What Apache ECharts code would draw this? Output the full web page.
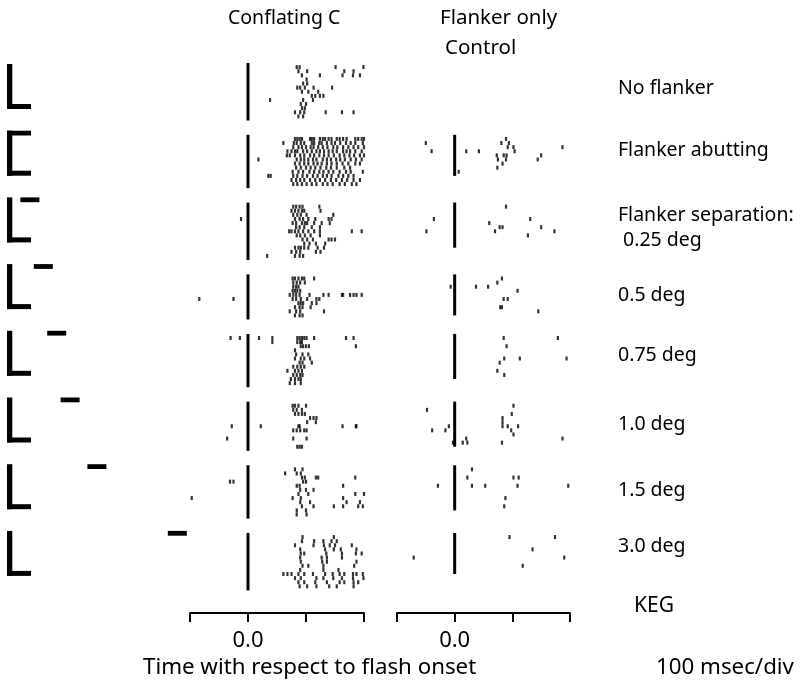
<!DOCTYPE html>
<html><head><meta charset="utf-8">
<script src="https://cdn.jsdelivr.net/npm/echarts@6/dist/echarts.min.js"></script>
<style>html,body{margin:0;padding:0;background:#fff}#c{width:804px;height:685px}</style>
</head><body><div id="c"></div>
<script>
// ---------- DATA ----------
const conditionLabels = ['No flanker', 'Flanker abutting', 'Flanker separation:', ' 0.25 deg', '0.5 deg', '0.75 deg', '1.0 deg', '1.5 deg', '3.0 deg'];
const flankerSepDeg = [null, 0, 0.25, 0.5, 0.75, 1.0, 1.5, 3.0];
const trialsConflating = [14, 13, 14, 11, 13, 12, 13, 14];
const trialsControl = [0, 10, 11, 10, 11, 11, 11, 10];
const timeTicks = [-100, 0, 100, 200];          // ms, 100 ms/div
const panelTitles = ['Conflating C', 'Flanker only', 'Control'];

// spikes: [time ms, trial]
const conf0 = [[84,1],[89,1],[151,1],[199,1],[87,2],[102,2],[166,2],[182,2],[93,3],[124,3],[163,3],[181,3],[193,3],[101,4],[95,5],[102,5],[85,6],[90,6],[98,6],[113,6],[145,6],[93,7],[104,7],[121,7],[110,8],[116,8],[124,8],[130,8],[38,9],[95,9],[112,9],[91,10],[100,10],[93,11],[98,11],[81,12],[90,12],[97,12],[134,12],[162,12],[182,12],[87,13],[95,13]];
const conf1 = [
 [81,1],[85,1],[89,1],[93,1],[107,1],[110,1],[114,1],[124,1],[129,1],[133,1],[139,1],[144,1],[153,1],[158,1],[164,1],[170,1],[185,1],[190,1],[196,1],[200,1],
 [61,2],[79,2],[84,2],[91,2],[97,2],[110,2],[114,2],[123,2],[127,2],[136,2],[144,2],[150,2],[159,2],[169,2],[177,2],[185,2],[198,2],
 [78,3],[87,3],[93,3],[100,3],[108,3],[113,3],[121,3],[129,3],[137,3],[147,3],[154,3],[164,3],[173,3],[182,3],[190,3],[200,3],
 [68,4],[75,4],[81,4],[85,4],[95,4],[102,4],[110,4],[118,4],[124,4],[131,4],[139,4],[146,4],[153,4],[164,4],[170,4],[176,4],[185,4],[196,4],
 [67,5],[72,5],[81,5],[90,5],[97,5],[107,5],[114,5],[123,5],[131,5],[139,5],[148,5],[158,5],[166,5],[175,5],[183,5],[193,5],[200,5],
 [18,6],[84,6],[91,6],[97,6],[104,6],[112,6],[118,6],[129,6],[136,6],[143,6],[152,6],[159,6],[167,6],[177,6],[186,6],[196,6],
 [81,7],[89,7],[97,7],[104,7],[113,7],[120,7],[127,7],[136,7],[144,7],[153,7],[163,7],[173,7],[185,7],[193,7],
 [83,8],[91,8],[100,8],[108,8],[116,8],[125,8],[135,8],[143,8],[153,8],[166,8],[176,8],
 [77,9],[87,9],[95,9],[106,9],[114,9],[123,9],[130,9],[139,9],[147,9],[158,9],[169,9],[177,9],[198,9],
 [35,10],[39,10],[78,10],[85,10],[94,10],[102,10],[112,10],[120,10],[129,10],[136,10],[144,10],[156,10],[164,10],[173,10],[182,10],
 [75,11],[83,11],[90,11],[97,11],[107,11],[116,11],[124,11],[133,11],[143,11],[152,11],[162,11],[171,11],[182,11],[193,11],
 [78,12],[85,12],[93,12],[101,12],[110,12],[118,12],[129,12],[137,12],[146,12],[158,12],[167,12],[179,12],[187,12]];
const conf2 = [[78,1],[83,1],[89,1],[94,1],[123,1],[75,2],[81,2],[87,2],[93,2],[97,2],[125,2],[78,3],[85,3],[91,3],[101,3],[147,3],[-12,4],[81,4],[89,4],[95,4],[104,4],[116,4],[139,4],[144,4],[77,5],[83,5],[93,5],[98,5],[102,5],[114,5],[127,5],[141,5],[83,6],[89,6],[97,6],[110,6],[124,6],[71,7],[75,7],[81,7],[87,7],[95,7],[104,7],[114,7],[124,7],[179,7],[196,7],[84,8],[90,8],[98,8],[108,8],[124,8],[94,9],[102,9],[112,9],[139,9],[144,9],[150,9],[97,10],[106,10],[117,10],[133,10],[81,11],[87,11],[91,11],[97,11],[104,11],[120,11],[131,11],[75,12],[83,12],[90,12],[117,12],[125,12],[33,13],[81,13],[89,13],[95,13]];
const conf3 = [[77,1],[81,1],[87,1],[93,1],[97,1],[114,1],[78,2],[84,2],[90,2],[98,2],[78,3],[83,3],[87,3],[77,4],[81,4],[85,4],[90,4],[72,5],[78,5],[83,5],[89,5],[106,5],[130,5],[139,5],[162,5],[164,5],[176,5],[182,5],[187,5],[196,5],[-84,6],[-25,6],[77,6],[83,6],[91,6],[102,6],[118,6],[123,6],[87,7],[91,7],[95,7],[110,7],[118,7],[81,8],[89,8],[94,8],[108,8],[72,9],[83,9],[90,9],[131,9],[81,10],[89,10],[94,10]];
const conf4 = [[-30,1],[-14,1],[19,1],[42,1],[85,1],[89,1],[93,1],[97,1],[101,1],[114,1],[169,1],[182,1],[42,2],[85,2],[90,2],[93,2],[91,3],[95,3],[100,3],[105,3],[186,3],[81,4],[83,5],[94,5],[104,5],[81,6],[91,6],[97,6],[107,6],[89,7],[94,7],[110,7],[78,8],[85,8],[91,8],[97,8],[68,9],[81,9],[87,9],[93,9],[78,10],[84,10],[90,10],[94,10],[74,11],[81,11],[87,11],[91,11],[72,12],[81,12],[91,12]];
const conf5 = [[77,1],[81,1],[87,1],[100,1],[78,2],[84,2],[93,2],[81,3],[87,3],[93,3],[98,3],[107,4],[113,4],[118,4],[102,5],[117,5],[-28,6],[22,6],[87,6],[89,6],[163,6],[186,6],[187,6],[78,7],[84,7],[90,7],[97,7],[101,7],[-36,9],[78,9],[101,9],[85,11],[89,11],[93,11]];
const conf6 = [[81,1],[94,1],[64,2],[84,2],[91,2],[93,3],[98,3],[117,3],[121,3],[185,3],[-31,4],[-25,4],[95,4],[100,4],[84,5],[89,5],[164,5],[90,6],[100,6],[113,6],[87,7],[104,7],[185,7],[200,7],[-97,8],[77,8],[91,8],[164,8],[90,9],[107,9],[170,9],[193,9],[93,10],[113,10],[148,10],[164,10],[190,10],[198,10],[84,11],[100,11],[84,12],[101,12]];
const conf7 = [[94,1],[148,1],[93,2],[114,2],[130,2],[144,2],[153,2],[81,3],[113,3],[131,3],[141,3],[150,3],[179,3],[90,4],[133,4],[148,4],[160,4],[187,4],[91,5],[97,5],[135,5],[162,5],[186,5],[196,5],[90,6],[127,6],[136,6],[162,6],[91,7],[128,7],[136,7],[187,7],[94,8],[104,8],[130,8],[183,8],[90,9],[130,9],[156,9],[61,10],[68,10],[75,10],[87,10],[97,10],[112,10],[133,10],[146,10],[158,10],[166,10],[181,10],[187,10],[198,10],[81,11],[91,11],[118,11],[130,11],[147,11],[162,11],[181,11],[199,11],[87,12],[97,12],[116,12],[136,12],[158,12],[166,12],[182,12],[190,12],[89,13],[102,13],[118,13],[140,13],[153,13],[182,13]];

const ctrl1 = [[89,1],[-50,2],[81,2],[94,2],[92,3],[102,3],[187,3],[-40,4],[20,4],[42,4],[104,4],[73,5],[85,5],[90,5],[150,5],[75,6],[89,6],[144,6],[83,7],[74,8],[7,9]];
const ctrl2 = [[89,1],[-36,4],[131,4],[60,5],[78,6],[83,6],[150,6],[-49,7],[70,7],[173,7],[127,8]];
const ctrl3 = [[82,1],[74,2],[-7,3],[37,3],[58,3],[109,4],[85,6],[92,6],[79,8],[82,8],[145,9]];
const ctrl4 = [[85,1],[179,1],[90,3],[86,6],[113,6],[194,6],[78,7],[74,9],[86,10]];
const ctrl5 = [[102,1],[-48,2],[99,3],[83,4],[83,5],[-10,6],[83,6],[92,6],[110,6],[-39,7],[-16,7],[98,7],[102,8],[20,9],[187,9],[-3,10],[14,10],[22,10],[82,10]];
const ctrl6 = [[30,1],[22,3],[102,3],[111,3],[-29,5],[30,5],[53,5],[109,5],[197,5],[88,8],[86,10]];
const ctrl7 = [[95,1],[174,1],[135,4],[-71,6],[190,6],[118,8]];

const conflatingSpikes = [conf0, conf1, conf2, conf3, conf4, conf5, conf6, conf7];
const controlSpikes = [[], ctrl1, ctrl2, ctrl3, ctrl4, ctrl5, ctrl6, ctrl7];

// ---------- LAYOUT ----------
const FONT = '"Noto Sans", sans-serif';
const blockGap = 3.5;
const blockStart = [];
(function () { let acc = 0; trialsConflating.forEach(n => { blockStart.push(acc); acc += n + blockGap; }); })();

function spikeData(lists) {
  const out = [];
  lists.forEach((l, k) => l.forEach(([t, j]) => out.push([t, blockStart[k] + j])));
  return out;
}
function onsetData(counts) {
  const out = [];
  counts.forEach((n, k) => { if (n > 0) out.push([0, blockStart[k], blockStart[k] + n]); });
  return out;
}
function onsetRender(params, api) {
  const a = api.coord([api.value(0), api.value(1)]);
  const b = api.coord([api.value(0), api.value(2)]);
  return { type: 'rect', shape: { x: a[0] - 1.5, y: a[1], width: 3, height: b[1] - a[1] }, style: { fill: '#000' } };
}
function iconRender(params, api) {
  const i = api.value(1);
  const o = api.coord([0, i]);
  const children = [
    { type: 'rect', shape: { x: o[0], y: o[1], width: 5.3, height: 45 }, style: { fill: '#000' } },
    { type: 'rect', shape: { x: o[0], y: o[1] + 40, width: 24, height: 5 }, style: { fill: '#000' } }
  ];
  const sep = flankerSepDeg[params.dataIndex];
  if (sep !== null) {
    const b = api.coord([sep, i]);
    children.push({ type: 'rect', shape: { x: b[0], y: o[1], width: sep === 0 ? 24 : 19, height: 4.8 }, style: { fill: '#000' } });
  }
  return { type: 'group', children };
}

const timeAxis = (gi) => ({
  type: 'value', gridIndex: gi, min: timeTicks[0], max: timeTicks[timeTicks.length - 1], interval: 100,
  axisLine: { show: true, onZero: false, lineStyle: { color: '#000', width: 2 } },
  axisTick: { show: true, length: 9, lineStyle: { color: '#000', width: 2 } },
  axisLabel: { formatter: v => (v === 0 ? '0.0' : ''), color: '#000', fontSize: 22, fontFamily: FONT, margin: 17 },
  splitLine: { show: false }
});
const trialAxis = (gi) => ({ type: 'value', gridIndex: gi, min: 0, max: 134, inverse: true, show: false });

const texts = [];
function addText(t, x, y, size) {
  texts.push({ type: 'text', x: x, y: y, style: { text: t, font: size + 'px ' + FONT, fill: '#000', textVerticalAlign: 'middle', verticalAlign: 'middle' } });
}
addText(panelTitles[0], 228, 18, 19.5);
addText(panelTitles[1], 440, 18, 20.5);
addText(panelTitles[2], 445, 48, 20.5);
const labelPos = [[618, 88], [618, 150], [618, 215], [618, 240], [618, 295], [618, 355], [618, 424], [618, 490], [618, 546]];
conditionLabels.forEach((t, i) => addText(t, labelPos[i][0], labelPos[i][1], 19.5));
addText('KEG', 634, 606, 21);
addText('Time with respect to flash onset', 143, 668, 22.3);
addText('100 msec/div', 656, 668, 22.3);

const option = {
  backgroundColor: '#fff',
  animation: false,
  grid: [
    { left: 190, top: 63, width: 174, height: 550 },
    { left: 397, top: 63, width: 173, height: 550 },
    { left: 7, top: 64, width: 187.6, height: 466.9 }
  ],
  xAxis: [timeAxis(0), timeAxis(1), { type: 'value', gridIndex: 2, min: 0, max: 3.5, show: false }],
  yAxis: [trialAxis(0), trialAxis(1), { type: 'value', gridIndex: 2, min: 0, max: 7, inverse: true, show: false }],
  series: [
    { type: 'custom', xAxisIndex: 0, yAxisIndex: 0, renderItem: onsetRender, data: onsetData(trialsConflating), encode: { x: 0, y: [1, 2] } },
    { type: 'custom', xAxisIndex: 1, yAxisIndex: 1, renderItem: onsetRender, data: onsetData(trialsControl), encode: { x: 0, y: [1, 2] } },
    { type: 'scatter', xAxisIndex: 0, yAxisIndex: 0, symbol: 'rect', symbolSize: [2.2, 4], itemStyle: { color: '#000' }, data: spikeData(conflatingSpikes) },
    { type: 'scatter', xAxisIndex: 1, yAxisIndex: 1, symbol: 'rect', symbolSize: [2.2, 4], itemStyle: { color: '#000' }, data: spikeData(controlSpikes) },
    { type: 'custom', xAxisIndex: 2, yAxisIndex: 2, renderItem: iconRender, data: flankerSepDeg.map((s, i) => [s === null ? 0 : s, i]), encode: { x: 0, y: 1 } }
  ],
  graphic: texts
};
echarts.init(document.getElementById('c')).setOption(option);
</script></body></html>
